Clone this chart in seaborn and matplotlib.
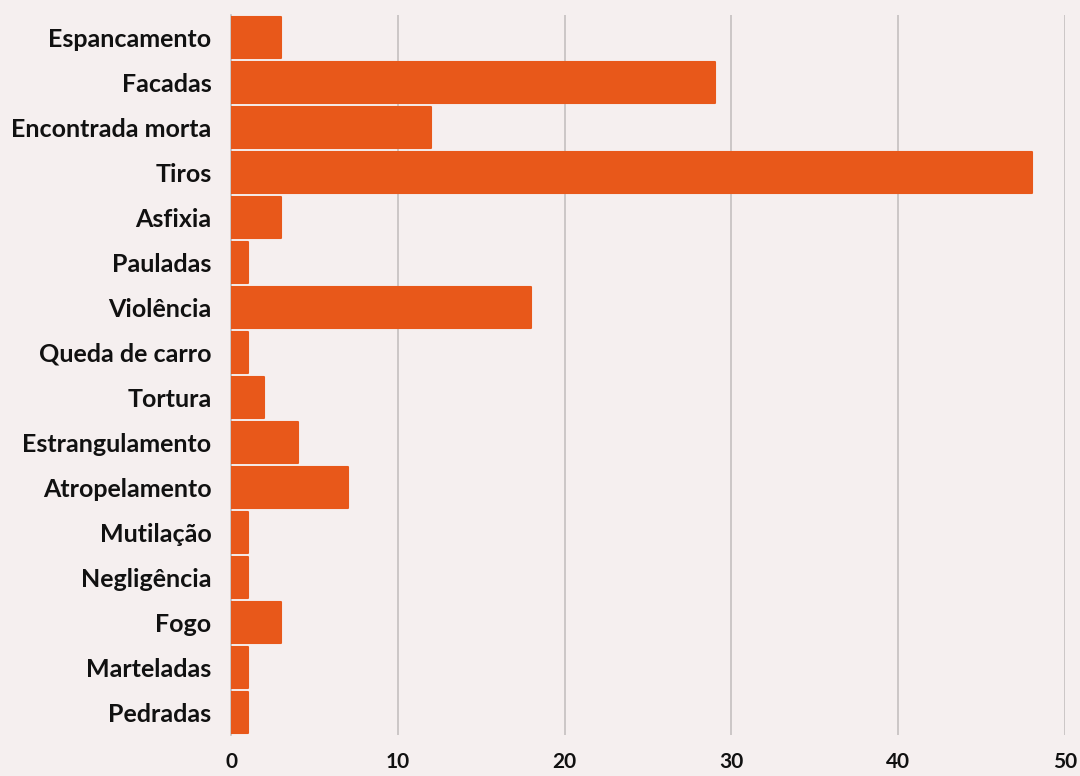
import pandas as pd
import matplotlib.pyplot as plt
import seaborn as sns

categorias = ['Espancamento', 'Facadas', 'Encontrada morta', 'Tiros', 'Asfixia',
              'Pauladas', 'Violência', 'Queda de carro', 'Tortura', 'Estrangulamento',
              'Atropelamento', 'Mutilação', 'Negligência', 'Fogo', 'Marteladas', 'Pedradas']
casos = [3, 29, 12, 48, 3, 1, 18, 1, 2, 4, 7, 1, 1, 3, 1, 1]

df = pd.DataFrame({'causa': categorias, 'casos': casos})

BG = '#f5efef'
BAR = '#e8581a'

sns.set_theme(style="white")
plt.rcParams['font.family'] = ['Lato', 'DejaVu Sans']

fig = plt.figure(figsize=(10.8, 7.76), dpi=100, facecolor=BG)
ax = fig.add_axes([0.2139, 0.0528, 0.7722, 0.928])
ax.set_facecolor(BG)

sns.barplot(data=df, x='casos', y='causa', color=BAR, width=0.92,
            saturation=1, ax=ax, zorder=3)
for p in ax.patches:
    p.set_edgecolor(BAR)
    p.set_linewidth(1.5)
    p.set_joinstyle('round')

ax.set_xlim(0, 50)
ax.set_xticks([0, 10, 20, 30, 40, 50])
ax.xaxis.grid(True, color='#c4c0c0', linewidth=1.2, zorder=0)
ax.set_ylim(15.5, -0.5)

for s in ['top', 'right', 'bottom']:
    ax.spines[s].set_visible(False)
ax.spines['left'].set_color('#c4c0c0')
ax.spines['left'].set_linewidth(1.2)

ax.tick_params(axis='y', length=0, pad=14, labelsize=18)
ax.tick_params(axis='x', length=0, pad=12, labelsize=15)
for t in ax.get_yticklabels() + ax.get_xticklabels():
    t.set_fontweight('bold')
    t.set_color('#111111')

ax.set_xlabel('')
ax.set_ylabel('')

fig.savefig('out.png', dpi=100, facecolor=BG)
